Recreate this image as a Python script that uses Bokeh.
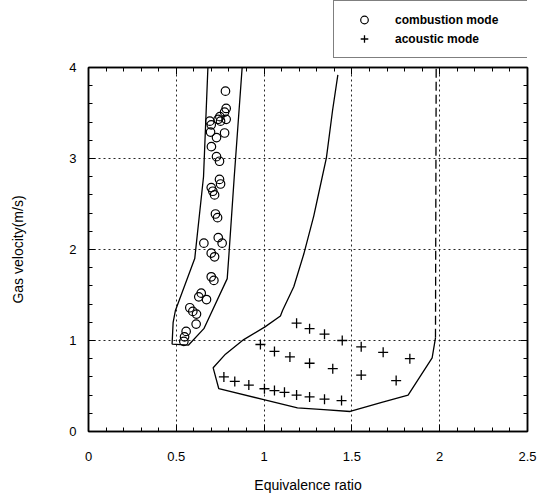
from bokeh.plotting import figure
from bokeh.models import Range1d, LinearAxis, FixedTicker, Legend, LegendItem
from bokeh.layouts import column
from bokeh.embed import file_html
from bokeh.resources import INLINE

# ---- data ----
comb_x = [0.78, 0.784, 0.775, 0.748, 0.738, 0.752, 0.784, 0.691, 0.699, 0.695,
          0.775, 0.729, 0.70, 0.729, 0.746, 0.746, 0.752, 0.699, 0.708, 0.718,
          0.723, 0.735, 0.739, 0.761, 0.657, 0.699, 0.718, 0.699, 0.714, 0.642,
          0.628, 0.672, 0.577, 0.594, 0.615, 0.613, 0.556, 0.547, 0.543]
comb_y = [3.74, 3.55, 3.51, 3.46, 3.43, 3.41, 3.43, 3.41, 3.37, 3.29,
          3.28, 3.23, 3.13, 3.02, 2.97, 2.77, 2.72, 2.68, 2.64, 2.60,
          2.39, 2.35, 2.13, 2.07, 2.07, 1.96, 1.92, 1.70, 1.66, 1.52,
          1.48, 1.45, 1.36, 1.32, 1.29, 1.18, 1.10, 1.04, 0.99]

ac_x = [1.185, 1.259, 1.344, 1.445, 0.979, 1.059, 1.147, 1.259, 1.391, 1.553,
        1.678, 1.83, 1.553, 1.752, 0.771, 0.833, 0.913, 1.002, 1.059, 1.116,
        1.185, 1.259, 1.344, 1.441]
ac_y = [1.19, 1.13, 1.07, 1.00, 0.956, 0.88, 0.82, 0.75, 0.69, 0.93,
        0.87, 0.80, 0.62, 0.56, 0.60, 0.55, 0.51, 0.47, 0.45, 0.43,
        0.40, 0.38, 0.355, 0.34]

# boundary of the combustion-mode region
comb_bx = [0.68, 0.655, 0.605, 0.495, 0.482, 0.476, 0.57, 0.657, 0.79, 0.80, 0.83, 0.875]
comb_by = [4.0, 2.8, 1.9, 1.33, 1.2, 0.96, 0.95, 1.13, 1.68, 1.95, 2.8, 4.0]

# boundary of the acoustic-mode region (solid part)
ac_bx = [1.42, 1.39, 1.355, 1.31, 1.283, 1.226, 1.169, 1.105, 1.093, 1.005, 0.884,
         0.78, 0.71, 0.742, 0.998, 1.19, 1.34, 1.49, 1.67, 1.82, 1.957, 1.976]
ac_by = [3.92, 3.53, 3.01, 2.61, 2.37, 1.95, 1.59, 1.33, 1.27, 1.15, 1.01,
         0.85, 0.70, 0.47, 0.35, 0.26, 0.24, 0.22, 0.32, 0.40, 0.81, 1.03]
# dashed upper part of the right boundary
ac_dx = [1.976, 1.98]
ac_dy = [1.03, 4.0]

x_ticks = [0, 0.5, 1, 1.5, 2, 2.5]
x_labels = ["0", "0.5", "1", "1.5", "2", "2.5"]
y_ticks = [0, 1, 2, 3, 4]
y_labels = ["0", "1", "2", "3", "4"]
x_minor = [i / 10 for i in range(26)]
y_minor = [i / 5 for i in range(21)]

FONT = "Liberation Sans"
LEG_H = 58

# ---- main plot ----
p = figure(width=547, height=500 - LEG_H, x_range=Range1d(0, 2.5), y_range=Range1d(0, 4),
           output_backend="svg", toolbar_location=None,
           min_border_left=88, min_border_right=20, min_border_top=9, min_border_bottom=69)
p.outline_line_color = "black"
p.outline_line_width = 1.5
p.background_fill_color = "white"
p.border_fill_color = "white"

xt = FixedTicker(ticks=x_ticks, minor_ticks=x_minor)
yt = FixedTicker(ticks=y_ticks, minor_ticks=y_minor)

for ax in p.xaxis:
    ax.ticker = xt
    ax.major_label_overrides = {t: l for t, l in zip(x_ticks, x_labels)}
    ax.axis_label = "Equivalence ratio"
    ax.major_label_standoff = 20
    ax.axis_label_standoff = 13
for ax in p.yaxis:
    ax.ticker = yt
    ax.major_label_overrides = {t: l for t, l in zip(y_ticks, y_labels)}
    ax.axis_label = "Gas velocity(m/s)"
    ax.major_label_standoff = 12
    ax.axis_label_standoff = 40

# tick-only axes on top and right
top = LinearAxis(ticker=xt, major_label_overrides={t: "" for t in x_ticks},
                 major_label_standoff=0)
right = LinearAxis(ticker=yt, major_label_overrides={t: "" for t in y_ticks},
                   major_label_standoff=0)
p.add_layout(top, "above")
p.add_layout(right, "right")

for ax in p.axis:
    ax.axis_line_color = "black"
    ax.axis_line_width = 1.5
    ax.major_tick_in = 7
    ax.major_tick_out = 0
    ax.minor_tick_in = 4
    ax.minor_tick_out = 0
    ax.major_tick_line_color = "black"
    ax.minor_tick_line_color = "black"
    ax.major_label_text_font = FONT
    ax.major_label_text_font_size = "13px"
    ax.major_label_text_color = "black"
    ax.axis_label_text_font = FONT
    ax.axis_label_text_font_size = "14px"
    ax.axis_label_text_font_style = "normal"
    ax.axis_label_text_color = "black"

p.xgrid.ticker = FixedTicker(ticks=[0.5, 1, 1.5, 2])
p.ygrid.ticker = FixedTicker(ticks=[1, 2, 3])
for g in (p.xgrid, p.ygrid):
    g.grid_line_color = "black"
    g.grid_line_dash = "2 3"
    g.grid_line_width = 1
    g.grid_line_alpha = 0.85

p.line(comb_bx, comb_by, line_color="black", line_width=1.3)
p.line(ac_bx, ac_by, line_color="black", line_width=1.3)
p.line(ac_dx, ac_dy, line_color="black", line_width=1.3, line_dash="9 4")

CIRC = dict(marker="circle", size=8.5, fill_color=None, line_color="black", line_width=1.2)
CROSS = dict(marker="cross", size=10, line_color="black", line_width=1.3)
p.scatter(comb_x, comb_y, **CIRC)
p.scatter(ac_x, ac_y, **CROSS)

# ---- legend strip above the plot ----
# its ranges lie outside all data, so the legend's renderers draw nothing here
lg = figure(width=547, height=LEG_H, x_range=Range1d(-2, -1), y_range=Range1d(-2, -1),
            output_backend="svg", toolbar_location=None,
            min_border_left=0, min_border_right=0, min_border_top=0, min_border_bottom=0)
lg.axis.visible = False
lg.grid.visible = False
lg.outline_line_color = None
lg.border_fill_color = "white"
lg.background_fill_color = "white"
l1 = lg.scatter(comb_x, comb_y, **CIRC)
l2 = lg.scatter(ac_x, ac_y, **CROSS)

legend = Legend(items=[LegendItem(label="combustion mode", renderers=[l1]),
                       LegendItem(label="acoustic mode", renderers=[l2])],
                location=(245, 0), orientation="vertical",
                border_line_color="black", border_line_width=1,
                background_fill_color="white", background_fill_alpha=1,
                padding=9, spacing=0, margin=0,
                glyph_width=42, glyph_height=19, label_height=19, label_width=127,
                label_standoff=10, label_text_font=FONT, label_text_font_size="12px",
                label_text_font_style="bold", label_text_color="black")
lg.add_layout(legend)

layout = column(lg, p, spacing=0)
open("out.html", "w").write(file_html(layout, INLINE))
